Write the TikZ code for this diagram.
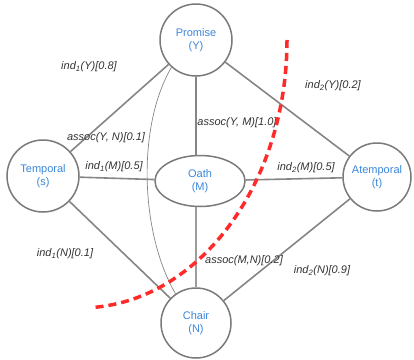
\documentclass[tikz,border=0pt]{standalone}
\usepackage{fontspec}
\setmainfont{Liberation Sans}
\usetikzlibrary{shapes.geometric}
\definecolor{edgegray}{HTML}{858585}
\definecolor{nodegray}{HTML}{7A7A7A}
\definecolor{nodeblue}{HTML}{3A87DC}
\definecolor{labtext}{HTML}{333333}
\definecolor{cutred}{HTML}{FF2A2A}
\tikzset{
  vnode/.style={circle, draw=nodegray, line width=1.5pt, inner sep=0pt, minimum size=72pt,
    text=nodeblue, font=\fontsize{11}{13}\selectfont, align=center, fill=white},
  onode/.style={ellipse, draw=nodegray, line width=1.5pt, inner sep=0pt, minimum width=90pt,
    minimum height=51pt, text=nodeblue, font=\fontsize{11}{13}\selectfont, align=center, fill=white},
  edge/.style={draw=edgegray, line width=1.6pt},
  thinedge/.style={draw=edgegray, line width=0.7pt},
  midedge/.style={draw=edgegray!80, line width=1.1pt},
  elab/.style={text=labtext, font=\fontsize{11}{13}\selectfont\itshape, inner sep=0pt},
  cut/.style={draw=cutred, line width=3.5pt, dash pattern=on 8pt off 5pt}
}
\begin{document}
\begin{tikzpicture}[x=1pt,y=-1pt]
\useasboundingbox (0,0) rectangle (414,359);
% nodes
\node[vnode] (P) at (196,40) {Promise\\(Y)};
\node[vnode] (T) at (43,176) {Temporal\\(s)};
\node[onode] (O) at (200,181) {Oath\\(M)};
\node[vnode, minimum size=68pt] (A) at (377,177) {Atemporal\\(t)};
\node[vnode, minimum size=70pt] (C) at (196,323) {Chair\\(N)};
% edges
\path[edge] (P) -- (T);
\path[edge] (P) -- (A);
\path[edge] (P.south) -- (P.south |- O.north);
\path[midedge] (O.south -| C.north) -- (C.north);
\path[edge] (T) -- (O);
\path[edge] (O) -- (A);
\path[edge] (T) -- (C);
\path[edge] (A) -- (C);
\path[thinedge] (P.228) .. controls +(-35,60) and +(-35,-60) .. (C.125);
% labels
\node[elab] (l1) at (89,67) {ind\textsubscript{1}(Y)[0.8]};
\node[elab] (l2) at (333,86) {ind\textsubscript{2}(Y)[0.2]};
\node[elab] (l3) at (106,138) {assoc(Y, N)[0.1]};
\node[elab] (l4) at (237,123) {assoc(Y, M)[1.0]};
\node[elab] (l5) at (114,167) {ind\textsubscript{1}(M)[0.5]};
\node[elab] (l6) at (306,168) {ind\textsubscript{2}(M)[0.5]};
\node[elab] (l7) at (65,254) {ind\textsubscript{1}(N)[0.1]};
\node[elab] (l8) at (244,261) {assoc(M,N)[0.2]};
\node[elab] (l9) at (322,271) {ind\textsubscript{2}(N)[0.9]};
% red dashed cut
\draw[cut] (287,40) arc[start angle=0, end angle=-86.4, x radius=207pt, y radius=268pt];
\end{tikzpicture}
\end{document}
